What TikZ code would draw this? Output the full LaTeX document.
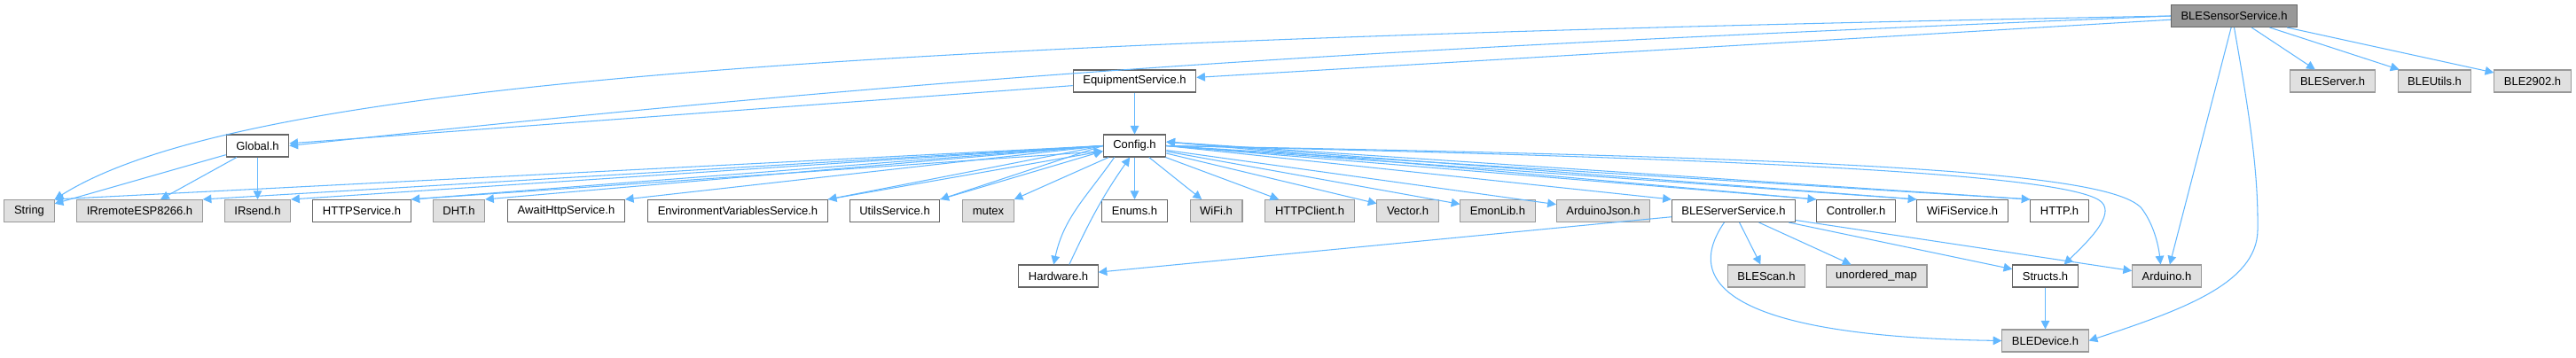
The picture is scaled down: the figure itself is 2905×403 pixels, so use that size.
\documentclass[tikz,border=0pt]{standalone}
\usepackage{fontspec}
\setmainfont{Liberation Sans}
\usepackage{xcolor}
\usepackage{tikz}
\usetikzlibrary{positioning, arrows.meta}
\definecolor{edgeblue}{HTML}{63B8FF}
\definecolor{extfill}{HTML}{E0E0E0}

\begin{document}
\begin{tikzpicture}[x=0.02cm, y=-0.02cm,
    doc/.style={rectangle, draw=black!60, fill=white, line width=0.6pt, minimum height=0.5cm,
                inner xsep=6.3pt, inner ysep=0pt, font=\fontsize{7.4}{9}\selectfont},
    ext/.style={doc, draw=black!40, fill=extfill},
    root/.style={doc, fill=black!40},
    dep/.style={-{Triangle[length=5.5pt,width=5.5pt]}, edgeblue, line width=0.6pt}
]
\path[use as bounding box, fill=white] (0,0) rectangle (2905,403);
\node[root] (sensor) at (2519.5,18) {BLESensorService.h};
\node[ext] (bleserver) at (2630.5,91.5) {BLEServer.h};
\node[ext] (bleutils)  at (2745.5,91.5) {BLEUtils.h};
\node[ext] (ble2902)   at (2856,91.5)   {BLE2902.h};
\node[doc] (equip)     at (1279.5,91.5) {EquipmentService.h};
\node[doc] (global)    at (290.5,164.5) {Global.h};
\node[doc] (config)    at (1279.5,164.5) {Config.h};
\node[ext] (string)    at (33,238)     {String};
\node[ext] (irremote)  at (157.5,238)  {IRremoteESP8266.h};
\node[ext] (irsend)    at (290.5,238)  {IRsend.h};
\node[doc] (httpsvc)   at (408,238)    {HTTPService.h};
\node[ext] (dht)       at (517.5,238)  {DHT.h};
\node[doc] (await)     at (638.5,238)  {AwaitHttpService.h};
\node[doc] (envvars)   at (832,238)    {EnvironmentVariablesService.h};
\node[doc] (utils)     at (1009,238)   {UtilsService.h};
\node[ext] (mutex)     at (1114.5,238) {mutex};
\node[doc] (enums)     at (1279.5,238) {Enums.h};
\node[ext] (wifi)      at (1371.5,238) {WiFi.h};
\node[ext] (httpclient) at (1477,238)  {HTTPClient.h};
\node[ext] (vector)    at (1587.5,238) {Vector.h};
\node[ext] (emonlib)   at (1689,238)   {EmonLib.h};
\node[ext] (arduinojson) at (1808,238) {ArduinoJson.h};
\node[doc] (bleserversvc) at (1955,238) {BLEServerService.h};
\node[doc] (controller) at (2093,238)  {Controller.h};
\node[doc] (wifisvc)   at (2213,238)   {WiFiService.h};
\node[doc] (http)      at (2322.5,238) {HTTP.h};
\node[doc] (hardware)  at (1193.5,311.5) {Hardware.h};
\node[ext] (blescan)   at (1992,311.5) {BLEScan.h};
\node[ext] (unordered) at (2116,311.5) {unordered\_map};
\node[doc] (structs)   at (2306.5,311.5) {Structs.h};
\node[ext] (arduino)   at (2443.5,311.5) {Arduino.h};
\node[ext] (bledevice) at (2306.5,384.5) {BLEDevice.h};
\draw[dep] (sensor.west) .. controls (948,46) and (270,94) .. (string.north east);
\draw[dep] (sensor.west) .. controls (1612,53) and (1157,75) .. (global.east);
\draw[dep] (sensor) -- (equip);
\draw[dep] (sensor) -- (bleserver); \draw[dep] (sensor) -- (bleutils); \draw[dep] (sensor) -- (ble2902);
\draw[dep] (sensor) -- (arduino);
\draw[dep] (sensor.south) .. controls (2535,120) and (2547,190) .. (2546,260) .. controls (2545,320) and (2460,350) .. (bledevice.east);
\draw[dep] (equip) -- (global); \draw[dep] (equip) -- (config);
\draw[dep] (global) -- (string); \draw[dep] (global) -- (irremote); \draw[dep] (global) -- (irsend);
\draw[dep] (config.west) -- (string.north east); \draw[dep] (config.west) -- (irremote.north east);
\draw[dep] (config.west) -- (irsend.north east);
\draw[dep] (config.west) -- (httpsvc.north east); \draw[dep] (httpsvc.north east) -- ([yshift=-3.5pt]config.west);
\draw[dep] (config.west) -- (dht.north east); \draw[dep] (config.west) -- (await.north east);
\draw[dep] (config.west) -- (envvars.north east); \draw[dep] (envvars.north east) -- ([yshift=-3.5pt]config.west);
\draw[dep] (config.west) -- (utils.north east); \draw[dep] (utils.north east) -- ([yshift=-3.5pt]config.west);
\draw[dep] (config) -- (mutex); \draw[dep] (config) -- (enums); \draw[dep] (config) -- (wifi);
\draw[dep] (config) -- (httpclient); \draw[dep] (config) -- (vector); \draw[dep] (config) -- (emonlib);
\draw[dep] (config) -- (arduinojson);
\draw[dep] (config.east) -- (bleserversvc.north west);
\draw[dep] (config.east) -- (controller.north west); \draw[dep] (controller.north west) -- ([yshift=2.5pt]config.east);
\draw[dep] (config.east) -- (wifisvc.north west); \draw[dep] (wifisvc.north west) -- ([yshift=2.5pt]config.east);
\draw[dep] (config.east) -- (http.north west); \draw[dep] (http.north west) -- ([yshift=2.5pt]config.east);
\draw[dep] (config.east) .. controls (2050,180) and (2340,200) .. (2370,228) .. controls (2385,243) and (2355,272) .. ([xshift=12pt]structs.north);
\draw[dep] (config.east) .. controls (2100,178) and (2380,195) .. (2415,235) .. controls (2428,252) and (2434,275) .. ([xshift=-4pt]arduino.north);
\draw[dep] ([xshift=-13pt]config.south) to[out=-125, in=78] ([xshift=-3pt]hardware.north);
\draw[dep] ([xshift=7pt]hardware.north) to[out=65, in=-125] ([xshift=-3pt]config.south);
\draw[dep] (bleserversvc) -- (hardware); \draw[dep] (bleserversvc) -- (blescan);
\draw[dep] (bleserversvc) -- (unordered); \draw[dep] (bleserversvc) -- (structs);
\draw[dep] (bleserversvc) -- (arduino);
\draw[dep] ([xshift=-6pt]bleserversvc.south) .. controls (1890,330) and (1980,380) .. (bledevice.west);
\draw[dep] (structs) -- (bledevice);
\end{tikzpicture}
\end{document}
